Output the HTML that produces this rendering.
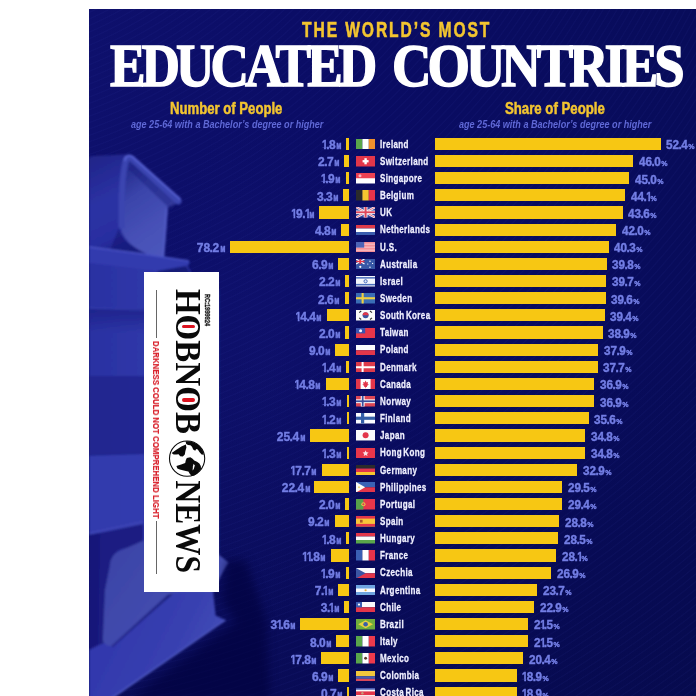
<!DOCTYPE html>
<html lang="en"><head><meta charset="utf-8"><title>The World's Most Educated Countries</title>
<style>
html,body{margin:0;padding:0;background:#fff;}
body{width:696px;height:696px;position:relative;overflow:hidden;font-family:"Liberation Sans",sans-serif;}
#bg{position:absolute;left:89px;top:9px;width:607px;height:687px;background:
 repeating-radial-gradient(circle at -190px -410px, rgba(70,80,200,0) 0 4.2px, rgba(70,80,200,.055) 4.8px 5.4px, rgba(70,80,200,0) 6px),
 radial-gradient(ellipse 120px 260px at 175px 360px, rgba(30,34,140,.14), rgba(11,11,88,0) 100%),
 linear-gradient(180deg,rgba(4,8,56,0) 45%,rgba(4,8,56,.35) 100%),
 linear-gradient(90deg,#0e106c 0%,#0a0c64 45%,#080c5a 100%);}
.t{position:absolute;white-space:nowrap;line-height:1;}
.sb{font-family:"Liberation Sans",sans-serif;font-weight:700;}
.sr{font-family:"Liberation Sans",sans-serif;font-weight:400;}
.sbi{font-family:"Liberation Sans",sans-serif;font-weight:700;font-style:italic;}
.si{font-family:"Liberation Sans",sans-serif;font-weight:400;font-style:italic;}
.fb{font-family:"Liberation Serif",serif;font-weight:700;}
.b{position:absolute;height:12.2px;background:#f7c713;}
.f{position:absolute;left:356.1px;line-height:0;}
.fl{display:block;}
.u{font-size:.6em;margin-left:.05em;}
.o{display:inline-block;width:.36em;margin-left:-.04em;transform:scaleX(.85);transform-origin:0 50%;clip-path:polygon(-.1em 0,.6em 0,.6em .7em,.39em .7em,.39em 1em,.21em 1em,.21em .7em,-.1em .7em);}
.d{margin:0 -.045em;}
.m{display:inline-block;font-size:.64em;width:.62em;transform:scaleX(.74);transform-origin:0 50%;margin-left:.12em;-webkit-text-stroke:.7px #737ee4;}
</style></head><body>
<div id="bg"></div>
<svg id="books" width="696" height="696" viewBox="0 0 696 696" style="position:absolute;left:0;top:0">
<defs>
<clipPath id="cp"><rect x="89" y="9" width="607" height="687"/></clipPath>
<linearGradient id="gS1" x1="0.2" y1="0" x2="0.5" y2="1"><stop offset="0" stop-color="#20258a"/><stop offset=".45" stop-color="#2c32a4"/><stop offset=".8" stop-color="#282ea0"/><stop offset="1" stop-color="#1b1f84"/></linearGradient>
<linearGradient id="gC1" x1="0.3" y1="0" x2="0.7" y2="1"><stop offset="0" stop-color="#232a8c"/><stop offset=".3" stop-color="#3a44aa"/><stop offset=".65" stop-color="#4650b6"/><stop offset="1" stop-color="#4c56bc"/></linearGradient>
<linearGradient id="gBody" x1="0" y1="0" x2="1" y2="0"><stop offset="0" stop-color="#2a31a2"/><stop offset=".4" stop-color="#2f37a8"/><stop offset="1" stop-color="#272d9a"/></linearGradient>
<linearGradient id="gBand" x1="0" y1="0" x2="0" y2="1"><stop offset="0" stop-color="#1c2188" stop-opacity=".85"/><stop offset="1" stop-color="#1c2188" stop-opacity="0"/></linearGradient>
<linearGradient id="gP1" x1="0" y1="0" x2="1" y2="0.6"><stop offset="0" stop-color="#3a42a6"/><stop offset=".6" stop-color="#434cae"/><stop offset="1" stop-color="#4852b6"/></linearGradient>
<linearGradient id="gSlab" x1="0" y1="0.3" x2="1" y2="0.7"><stop offset="0" stop-color="#3035ac"/><stop offset=".6" stop-color="#3840b0"/><stop offset="1" stop-color="#4650ba"/></linearGradient>
<filter id="bl" x="-5%" y="-5%" width="110%" height="110%"><feGaussianBlur stdDeviation="0.8"/></filter>
<filter id="bl3" x="-20%" y="-20%" width="140%" height="140%"><feGaussianBlur stdDeviation="5"/></filter>
</defs>
<g clip-path="url(#cp)">
<g filter="url(#bl)">
<!-- stack body -->
<path d="M89 246 L186 262 L200 290 L219 290 L219 560 L89 560 Z" fill="url(#gBody)"/>
<!-- top book spine face -->
<path d="M89 159 Q89 156 93 156 L124 154.5 Q128 154.5 127 159 L121 222 Q120 236 130 243 L150 255 L89 247 Z" fill="url(#gS1)"/>
<!-- concave pages -->
<path d="M127 158 L178 203 L168 207 Q166 235 164 258 L147 254 Q122 243 120.5 226 Z" fill="url(#gC1)"/>
<!-- shadow under rim -->
<path d="M131 166 L174 207" fill="none" stroke="#1b2080" stroke-width="8" opacity=".5" stroke-linecap="butt"/>
<!-- dark wedge under concave curve -->
<path d="M119 228 Q121 243 146 254 L150 255.5 L110 250 Z" fill="#171b7a" opacity=".7"/>
<!-- rim -->
<path d="M121.5 226 Q121 180 125.5 162 Q127 156 132 159 L178.5 201.5" fill="none" stroke="#3a44b0" stroke-width="6" stroke-linecap="round" stroke-linejoin="round"/>
<path d="M124.8 160 Q126.5 153.4 132.4 156.6 L180 199" fill="none" stroke="#555fd0" stroke-width="2.2" stroke-linecap="round"/>
<path d="M166.5 209 Q165 235 163 257" fill="none" stroke="#525cc6" stroke-width="2.4" opacity=".7"/>
<!-- second book top surface -->
<path d="M89 247 L150 255 L189 261 Q191 264 186 266 L158 271 L89 263 Z" fill="#323aae"/>
<path d="M89 247 L150 255 L189 261" fill="none" stroke="#4852c4" stroke-width="1.6"/>
<!-- shadow under T2 -->
<path d="M158 271 L186 266 L200 290 L144 290 Z" fill="#141870" opacity=".85"/>
<!-- bands on the left strip -->
<rect x="89" y="309" width="56" height="24" fill="url(#gBand)"/>
<path d="M89 308 L144 310" stroke="#3a42b2" stroke-width="1.4" opacity=".6"/>
<rect x="89" y="376" width="56" height="79" fill="#1a1e84" opacity=".6"/>
<path d="M89 455 L144 453 L144 519 L89 531 Z" fill="#363eb0" opacity=".75"/>
<path d="M89 455 L144 453" stroke="#1a1e82" stroke-width="1.4" opacity=".7"/>
<!-- lower book -->
<path d="M89 531.5 L143 520 L143 524 L89 535.5 Z" fill="#3a42b4"/>
<path d="M89 535 L143 524 L143 545 L122 549 Q112 552 111 566 L105 641 L89 652 Z" fill="#1a1e82"/>
<path d="M89 535 L100 533 L98 645 L89 652 Z" fill="#12157a"/>
<!-- slab -->
<path d="M170 596 L177 590 L213 590 L215.6 615.6 L225.4 620 L112 698 L89 698 L89 650 L105 642 L112 646.6 Z" fill="url(#gSlab)"/>
<path d="M225.4 620 L112 698" stroke="#5560cc" stroke-width="1.6" opacity=".8"/>
<!-- page block -->
<path d="M109.7 566.5 Q110 554 121 550.5 L143 540.7 L218 554 L228.5 562.6 L223 571.7 L213 592 L177 592 L169 595 L112 646.6 Q103 645 102.8 640 L105 590 Z" fill="url(#gP1)"/>
<path d="M169 595 L112 646.6" stroke="#1e2284" stroke-width="2.4" opacity=".6"/>
</g>
<path d="M226 560 L222 600 L236 622 L128 700 L270 700 L266 620 L246 560 Z" fill="#04063a" opacity=".6" filter="url(#bl3)"/>
</g>
</svg>

<div style="position:absolute;left:144px;top:271.5px;width:75px;height:320px;background:#fff"></div>
<div class="t sb" style="left:160.49px;top:340.59px;font-size:9.2px;color:#d9232e;transform-origin:0 0;transform:rotate(90deg) scaleX(0.8546);will-change:transform;-webkit-text-stroke:0.2px #d9232e;">DARKNESS COULD NOT COMPREHEND LIGHT</div>
<div class="t sb" style="left:209.64px;top:293.78px;font-size:6.9px;color:#111;transform-origin:0 0;transform:rotate(90deg) scaleX(0.8200);will-change:transform;-webkit-text-stroke:0.3px #111;">RC:1999924</div>
<div style="position:absolute;left:155.5px;top:290px;width:1.3px;height:48.3px;background:#666"></div>
<div style="position:absolute;left:155.5px;top:520.8px;width:1.3px;height:53.2px;background:#666"></div>
<svg width="696" height="696" viewBox="0 0 696 696" style="position:absolute;left:0;top:0" fill="#0a0a0a"><text transform="translate(176.05 288.9) rotate(90)" x="0" y="0" font-family="&quot;Liberation Serif&quot;, serif" font-weight="700" font-size="36.6" fill="#0a0a0a" textLength="145.1" lengthAdjust="spacingAndGlyphs">HOBNOB</text><text transform="translate(176.05 480.4) rotate(90)" x="0" y="0" font-family="&quot;Liberation Serif&quot;, serif" font-weight="700" font-size="36.6" fill="#0a0a0a" textLength="92.7" lengthAdjust="spacingAndGlyphs">NEWS</text></svg>
<div style="position:absolute;left:181.6px;top:324.6px;width:13.2px;height:3.8px;border-radius:1.9px;background:#dc1420"></div>
<div style="position:absolute;left:181.6px;top:398.1px;width:13.2px;height:3.8px;border-radius:1.9px;background:#dc1420"></div>
<svg width="696" height="696" viewBox="0 0 696 696" style="position:absolute;left:0;top:0">
<circle cx="187.1" cy="458.6" r="17.6" fill="#fff" stroke="#0a0a0a" stroke-width="1.1"/>
<path d="M171.6 453L176 450 181.4 446.6 185.9 444.6 186.4 447.5 185.4 451 184.8 454.6 182.8 456.4 180.2 456.2 178.6 454.2 176.2 454.4 173.6 454.4Z" fill="#0a0a0a"/>
<path d="M185.6 441.2L189.6 441.2 193.9 442.4 197.8 444.6 200.8 447.6 202.8 451 203.8 454.8 201.6 454.6 199.4 452 197.8 449.6 196.2 449 195.2 450.8 193.2 449.4 192 446.8 190.4 445.2 188 445 186.2 444Z" fill="#0a0a0a"/>
<path d="M176.4 466L181.2 464.6 185.2 463 185.8 460.2 186.8 458 190.3 457.2 192.6 458.8 194.2 460.6 197 461.8 199.4 463.4 200.8 466 201 468.8 199 471.6 197 473.8 194.2 475.4 191.4 475.8 189.6 473.6 188.4 471.6 185.8 471 182.8 470.2 179.8 469.6 177.4 468.6Z" fill="#0a0a0a"/>
<path d="M193.6 463.8L194.8 465.6 193.8 469 192.6 470.4 192.9 466.4Z" fill="#fff"/>
</svg>
<div class="b" style="left:345.76px;top:137.80px;width:3.14px"></div>
<div class="b" style="left:435.3px;top:137.80px;width:225.35px"></div>
<div class="f" style="top:138.85px"><svg class="fl" width="19.2" height="10.5" viewBox="0 0 19.2 10.5"><rect x="0" y="0" width="6.4" height="10.5" fill="#5aa64b"/><rect x="6.4" y="0" width="6.4" height="10.5" fill="#fff"/><rect x="12.8" y="0" width="6.4" height="10.5" fill="#f0902c"/></svg></div>
<div class="b" style="left:344.40px;top:154.95px;width:4.50px"></div>
<div class="b" style="left:435.3px;top:154.95px;width:197.89px"></div>
<div class="f" style="top:156.00px"><svg class="fl" width="19.2" height="10.5" viewBox="0 0 19.2 10.5"><rect x="0" y="0" width="19.2" height="10.5" fill="#e3364a"/><rect x="8.4" y="2.2" width="2.4" height="6.1" fill="#fff"/><rect x="6.6" y="4.1" width="6" height="2.3" fill="#fff"/></svg></div>
<div class="b" style="left:345.61px;top:172.10px;width:3.29px"></div>
<div class="b" style="left:435.3px;top:172.10px;width:193.60px"></div>
<div class="f" style="top:173.15px"><svg class="fl" width="19.2" height="10.5" viewBox="0 0 19.2 10.5"><rect x="0" y="0" width="19.2" height="10.5" fill="#fff"/><rect x="0" y="0" width="19.2" height="5.25" fill="#ee4152"/><circle cx="4" cy="2.7" r="1.5" fill="#f9b3bb"/></svg></div>
<div class="b" style="left:343.48px;top:189.25px;width:5.42px"></div>
<div class="b" style="left:435.3px;top:189.25px;width:189.73px"></div>
<div class="f" style="top:190.30px"><svg class="fl" width="19.2" height="10.5" viewBox="0 0 19.2 10.5"><rect x="0" y="0" width="6.4" height="10.5" fill="#2b2b2b"/><rect x="6.4" y="0" width="6.4" height="10.5" fill="#f7c72f"/><rect x="12.8" y="0" width="6.4" height="10.5" fill="#e8334a"/></svg></div>
<div class="b" style="left:319.47px;top:206.40px;width:29.43px"></div>
<div class="b" style="left:435.3px;top:206.40px;width:187.59px"></div>
<div class="f" style="top:207.45px"><svg class="fl" width="19.2" height="10.5" viewBox="0 0 19.2 10.5"><rect x="0" y="0" width="19.2" height="10.5" fill="#3c4a9c"/><path d="M0 0L19.2 10.5M19.2 0L0 10.5" stroke="#f4f4fa" stroke-width="2.4"/><path d="M0 0L19.2 10.5M19.2 0L0 10.5" stroke="#e3566a" stroke-width="0.8"/><rect x="7.7" y="0" width="3.8" height="10.5" fill="#f4f4fa"/><rect x="0" y="3.55" width="19.2" height="3.4" fill="#f4f4fa"/><rect x="8.6" y="0" width="2.0" height="10.5" fill="#e0465a"/><rect x="0" y="4.35" width="19.2" height="1.8" fill="#e0465a"/></svg></div>
<div class="b" style="left:341.20px;top:223.55px;width:7.70px"></div>
<div class="b" style="left:435.3px;top:223.55px;width:180.72px"></div>
<div class="f" style="top:224.60px"><svg class="fl" width="19.2" height="10.5" viewBox="0 0 19.2 10.5"><rect x="0" y="0" width="19.2" height="3.5" fill="#de3a49"/><rect x="0" y="3.5" width="19.2" height="3.5" fill="#fff"/><rect x="0" y="7" width="19.2" height="3.5" fill="#3a5dae"/></svg></div>
<div class="b" style="left:229.64px;top:240.70px;width:119.26px"></div>
<div class="b" style="left:435.3px;top:240.70px;width:173.43px"></div>
<div class="f" style="top:241.75px"><svg class="fl" width="19.2" height="10.5" viewBox="0 0 19.2 10.5"><rect x="0" y="0" width="19.2" height="10.5" fill="#f27a84"/><rect x="0" y="0.75" width="19.2" height="0.75" fill="#f9c9cd"/><rect x="0" y="2.25" width="19.2" height="0.75" fill="#f9c9cd"/><rect x="0" y="3.75" width="19.2" height="0.75" fill="#f9c9cd"/><rect x="0" y="5.25" width="19.2" height="0.75" fill="#f9c9cd"/><rect x="0" y="6.75" width="19.2" height="0.75" fill="#f9c9cd"/><rect x="0" y="8.25" width="19.2" height="0.75" fill="#f9c9cd"/><rect x="0" y="9.75" width="19.2" height="0.75" fill="#f9c9cd"/><rect x="0" y="0" width="8.2" height="5.6" fill="#4c63b6"/></svg></div>
<div class="b" style="left:338.01px;top:257.85px;width:10.89px"></div>
<div class="b" style="left:435.3px;top:257.85px;width:171.28px"></div>
<div class="f" style="top:258.90px"><svg class="fl" width="19.2" height="10.5" viewBox="0 0 19.2 10.5"><rect x="0" y="0" width="19.2" height="10.5" fill="#3757a6"/><rect x="0" y="0" width="8.5" height="5" fill="#3c4a9c"/><path d="M0 0L8.5 5M8.5 0L0 5" stroke="#fff" stroke-width="1.3"/><rect x="3.4" y="0" width="1.7" height="5" fill="#e3364a"/><rect x="0" y="1.8" width="8.5" height="1.4" fill="#e3364a"/><circle cx="4.3" cy="7.8" r="1.1" fill="#fff"/><circle cx="14" cy="2.2" r=".7" fill="#fff"/><circle cx="16.6" cy="4.4" r=".6" fill="#fff"/><circle cx="14" cy="8.3" r=".7" fill="#fff"/><circle cx="11.8" cy="5" r=".6" fill="#fff"/></svg></div>
<div class="b" style="left:345.16px;top:275.00px;width:3.74px"></div>
<div class="b" style="left:435.3px;top:275.00px;width:170.85px"></div>
<div class="f" style="top:276.05px"><svg class="fl" width="19.2" height="10.5" viewBox="0 0 19.2 10.5"><rect x="0" y="0" width="19.2" height="10.5" fill="#f4f6fb"/><rect x="0" y="1.1" width="19.2" height="1.5" fill="#4b6fbd"/><rect x="0" y="7.9" width="19.2" height="1.5" fill="#4b6fbd"/><circle cx="9.6" cy="5.25" r="1.6" fill="#dfe6f5" stroke="#4b6fbd" stroke-width="1"/></svg></div>
<div class="b" style="left:344.55px;top:292.15px;width:4.35px"></div>
<div class="b" style="left:435.3px;top:292.15px;width:170.42px"></div>
<div class="f" style="top:293.20px"><svg class="fl" width="19.2" height="10.5" viewBox="0 0 19.2 10.5"><rect x="0" y="0" width="19.2" height="10.5" fill="#3a6db5"/><rect x="5.6" y="0" width="2.1" height="10.5" fill="#f0d040"/><rect x="0" y="4.2" width="19.2" height="2.1" fill="#f0d040"/></svg></div>
<div class="b" style="left:326.61px;top:309.30px;width:22.29px"></div>
<div class="b" style="left:435.3px;top:309.30px;width:169.57px"></div>
<div class="f" style="top:310.35px"><svg class="fl" width="19.2" height="10.5" viewBox="0 0 19.2 10.5"><rect x="0" y="0" width="19.2" height="10.5" fill="#fafafa"/><circle cx="9.6" cy="5.25" r="3" fill="#3b55a0"/><path d="M6.6 5.25a3 3 0 0 1 6 0z" fill="#e3364a"/><path d="M3.2 2.6l2-1.6M14 1l2 1.6M3.2 7.9l2 1.6M14 9.5l2-1.6" stroke="#333" stroke-width="1.1"/></svg></div>
<div class="b" style="left:345.46px;top:326.45px;width:3.44px"></div>
<div class="b" style="left:435.3px;top:326.45px;width:167.42px"></div>
<div class="f" style="top:327.50px"><svg class="fl" width="19.2" height="10.5" viewBox="0 0 19.2 10.5"><rect x="0" y="0" width="19.2" height="10.5" fill="#e8364a"/><rect x="0" y="0" width="9.2" height="5.4" fill="#3b55b0"/><circle cx="4.6" cy="2.7" r="1.5" fill="#fff"/></svg></div>
<div class="b" style="left:334.82px;top:343.60px;width:14.08px"></div>
<div class="b" style="left:435.3px;top:343.60px;width:163.13px"></div>
<div class="f" style="top:344.65px"><svg class="fl" width="19.2" height="10.5" viewBox="0 0 19.2 10.5"><rect x="0" y="0" width="19.2" height="5.25" fill="#fbfbfd"/><rect x="0" y="5.25" width="19.2" height="5.25" fill="#e3364a"/></svg></div>
<div class="b" style="left:346.37px;top:360.75px;width:2.53px"></div>
<div class="b" style="left:435.3px;top:360.75px;width:162.27px"></div>
<div class="f" style="top:361.80px"><svg class="fl" width="19.2" height="10.5" viewBox="0 0 19.2 10.5"><rect x="0" y="0" width="19.2" height="10.5" fill="#dd3a4a"/><rect x="5.6" y="0" width="2" height="10.5" fill="#fff"/><rect x="0" y="4.25" width="19.2" height="2" fill="#fff"/></svg></div>
<div class="b" style="left:326.00px;top:377.90px;width:22.90px"></div>
<div class="b" style="left:435.3px;top:377.90px;width:158.84px"></div>
<div class="f" style="top:378.95px"><svg class="fl" width="19.2" height="10.5" viewBox="0 0 19.2 10.5"><rect x="0" y="0" width="19.2" height="10.5" fill="#fdfdfd"/><rect x="0" y="0" width="4.6" height="10.5" fill="#e3364a"/><rect x="14.6" y="0" width="4.6" height="10.5" fill="#e3364a"/><path d="M9.6 1.6l1 1.9 1.5-.5-.5 2.2 1.3.3-2 1.6.2 1h-1.2v1.2h-.6V8.1H8.1l.2-1-2-1.6 1.3-.3-.5-2.2 1.5.5z" fill="#e3364a"/></svg></div>
<div class="b" style="left:346.52px;top:395.05px;width:2.38px"></div>
<div class="b" style="left:435.3px;top:395.05px;width:158.84px"></div>
<div class="f" style="top:396.10px"><svg class="fl" width="19.2" height="10.5" viewBox="0 0 19.2 10.5"><rect x="0" y="0" width="19.2" height="10.5" fill="#dc4655"/><rect x="4.8" y="0" width="3.8" height="10.5" fill="#fff"/><rect x="0" y="3.35" width="19.2" height="3.8" fill="#fff"/><rect x="5.8" y="0" width="1.8" height="10.5" fill="#3a4f9c"/><rect x="0" y="4.35" width="19.2" height="1.8" fill="#3a4f9c"/></svg></div>
<div class="b" style="left:346.68px;top:412.20px;width:2.22px"></div>
<div class="b" style="left:435.3px;top:412.20px;width:153.26px"></div>
<div class="f" style="top:413.25px"><svg class="fl" width="19.2" height="10.5" viewBox="0 0 19.2 10.5"><rect x="0" y="0" width="19.2" height="10.5" fill="#fbfcff"/><rect x="5" y="0" width="3.2" height="10.5" fill="#335ea8"/><rect x="0" y="3.65" width="19.2" height="3.2" fill="#335ea8"/></svg></div>
<div class="b" style="left:309.89px;top:429.35px;width:39.01px"></div>
<div class="b" style="left:435.3px;top:429.35px;width:149.83px"></div>
<div class="f" style="top:430.40px"><svg class="fl" width="19.2" height="10.5" viewBox="0 0 19.2 10.5"><rect x="0" y="0" width="19.2" height="10.5" fill="#fbfbfb"/><circle cx="9.6" cy="5.25" r="3" fill="#e3364a"/></svg></div>
<div class="b" style="left:346.52px;top:446.50px;width:2.38px"></div>
<div class="b" style="left:435.3px;top:446.50px;width:149.83px"></div>
<div class="f" style="top:447.55px"><svg class="fl" width="19.2" height="10.5" viewBox="0 0 19.2 10.5"><rect x="0" y="0" width="19.2" height="10.5" fill="#e8364a"/><path d="M9.6 2.2l.9 2 2.1.2-1.6 1.5.5 2.2-1.9-1.1-1.9 1.1.5-2.2-1.6-1.5 2.1-.2z" fill="#fde4e7"/></svg></div>
<div class="b" style="left:321.60px;top:463.65px;width:27.30px"></div>
<div class="b" style="left:435.3px;top:463.65px;width:141.67px"></div>
<div class="f" style="top:464.70px"><svg class="fl" width="19.2" height="10.5" viewBox="0 0 19.2 10.5"><rect x="0" y="0" width="19.2" height="3.5" fill="#2b2b2b"/><rect x="0" y="3.5" width="19.2" height="3.5" fill="#e3364a"/><rect x="0" y="7" width="19.2" height="3.5" fill="#f7c72f"/></svg></div>
<div class="b" style="left:314.45px;top:480.80px;width:34.45px"></div>
<div class="b" style="left:435.3px;top:480.80px;width:127.08px"></div>
<div class="f" style="top:481.85px"><svg class="fl" width="19.2" height="10.5" viewBox="0 0 19.2 10.5"><rect x="0" y="0" width="19.2" height="5.25" fill="#3a62b5"/><rect x="0" y="5.25" width="19.2" height="5.25" fill="#e3364a"/><path d="M0 0L9.2 5.25 0 10.5z" fill="#fbfbf4"/><circle cx="3" cy="5.25" r="1.1" fill="#f2d77a"/></svg></div>
<div class="b" style="left:345.46px;top:497.95px;width:3.44px"></div>
<div class="b" style="left:435.3px;top:497.95px;width:126.66px"></div>
<div class="f" style="top:499.00px"><svg class="fl" width="19.2" height="10.5" viewBox="0 0 19.2 10.5"><rect x="0" y="0" width="19.2" height="10.5" fill="#e8364a"/><rect x="0" y="0" width="7.4" height="10.5" fill="#58a04a"/><circle cx="7.4" cy="5.25" r="2.1" fill="#e8c24a"/><circle cx="7.4" cy="5.25" r="1.1" fill="#d64050"/></svg></div>
<div class="b" style="left:334.52px;top:515.10px;width:14.38px"></div>
<div class="b" style="left:435.3px;top:515.10px;width:124.08px"></div>
<div class="f" style="top:516.15px"><svg class="fl" width="19.2" height="10.5" viewBox="0 0 19.2 10.5"><rect x="0" y="0" width="19.2" height="10.5" fill="#f6c53a"/><rect x="0" y="0" width="19.2" height="2.6" fill="#e3364a"/><rect x="0" y="7.9" width="19.2" height="2.6" fill="#e3364a"/><rect x="4" y="3.8" width="2.6" height="2.8" fill="#a8562a"/></svg></div>
<div class="b" style="left:345.76px;top:532.25px;width:3.14px"></div>
<div class="b" style="left:435.3px;top:532.25px;width:122.79px"></div>
<div class="f" style="top:533.30px"><svg class="fl" width="19.2" height="10.5" viewBox="0 0 19.2 10.5"><rect x="0" y="0" width="19.2" height="3.5" fill="#e3364a"/><rect x="0" y="3.5" width="19.2" height="3.5" fill="#fbfbfb"/><rect x="0" y="7" width="19.2" height="3.5" fill="#5aa64b"/></svg></div>
<div class="b" style="left:330.56px;top:549.40px;width:18.34px"></div>
<div class="b" style="left:435.3px;top:549.40px;width:121.08px"></div>
<div class="f" style="top:550.45px"><svg class="fl" width="19.2" height="10.5" viewBox="0 0 19.2 10.5"><rect x="0" y="0" width="6.4" height="10.5" fill="#3a5fb4"/><rect x="6.4" y="0" width="6.4" height="10.5" fill="#fff"/><rect x="12.8" y="0" width="6.4" height="10.5" fill="#e8334a"/></svg></div>
<div class="b" style="left:345.61px;top:566.55px;width:3.29px"></div>
<div class="b" style="left:435.3px;top:566.55px;width:115.93px"></div>
<div class="f" style="top:567.60px"><svg class="fl" width="19.2" height="10.5" viewBox="0 0 19.2 10.5"><rect x="0" y="0" width="19.2" height="5.25" fill="#fbfbfd"/><rect x="0" y="5.25" width="19.2" height="5.25" fill="#e3364a"/><path d="M0 0L9.6 5.25 0 10.5z" fill="#3a55a4"/></svg></div>
<div class="b" style="left:337.71px;top:583.70px;width:11.19px"></div>
<div class="b" style="left:435.3px;top:583.70px;width:102.20px"></div>
<div class="f" style="top:584.75px"><svg class="fl" width="19.2" height="10.5" viewBox="0 0 19.2 10.5"><rect x="0" y="0" width="19.2" height="10.5" fill="#6fa4e0"/><rect x="0" y="3.5" width="19.2" height="3.5" fill="#fbfbff"/><circle cx="9.6" cy="5.25" r="1.1" fill="#e8b040"/></svg></div>
<div class="b" style="left:343.79px;top:600.85px;width:5.11px"></div>
<div class="b" style="left:435.3px;top:600.85px;width:98.76px"></div>
<div class="f" style="top:601.90px"><svg class="fl" width="19.2" height="10.5" viewBox="0 0 19.2 10.5"><rect x="0" y="0" width="19.2" height="5.25" fill="#fbfbfd"/><rect x="0" y="5.25" width="19.2" height="5.25" fill="#e3364a"/><rect x="0" y="0" width="6" height="5.25" fill="#3a5fb4"/><circle cx="3" cy="2.6" r="1.1" fill="#fff"/></svg></div>
<div class="b" style="left:300.47px;top:618.00px;width:48.43px"></div>
<div class="b" style="left:435.3px;top:618.00px;width:92.76px"></div>
<div class="f" style="top:619.05px"><svg class="fl" width="19.2" height="10.5" viewBox="0 0 19.2 10.5"><rect x="0" y="0" width="19.2" height="10.5" fill="#6fae3c"/><path d="M9.6 1.2L17 5.25 9.6 9.3 2.2 5.25z" fill="#e8d23e"/><circle cx="9.6" cy="5.25" r="2.3" fill="#3a5fa8"/></svg></div>
<div class="b" style="left:336.34px;top:635.15px;width:12.56px"></div>
<div class="b" style="left:435.3px;top:635.15px;width:92.76px"></div>
<div class="f" style="top:636.20px"><svg class="fl" width="19.2" height="10.5" viewBox="0 0 19.2 10.5"><rect x="0" y="0" width="6.4" height="10.5" fill="#5aa64b"/><rect x="6.4" y="0" width="6.4" height="10.5" fill="#fff"/><rect x="12.8" y="0" width="6.4" height="10.5" fill="#ee3a4c"/></svg></div>
<div class="b" style="left:321.44px;top:652.30px;width:27.46px"></div>
<div class="b" style="left:435.3px;top:652.30px;width:88.04px"></div>
<div class="f" style="top:653.35px"><svg class="fl" width="19.2" height="10.5" viewBox="0 0 19.2 10.5"><rect x="0" y="0" width="6.4" height="10.5" fill="#5aa64b"/><rect x="6.4" y="0" width="6.4" height="10.5" fill="#fff"/><rect x="12.8" y="0" width="6.4" height="10.5" fill="#ee3a4c"/><circle cx="9.6" cy="5.25" r="1.5" fill="#5a3a2a"/></svg></div>
<div class="b" style="left:338.01px;top:669.45px;width:10.89px"></div>
<div class="b" style="left:435.3px;top:669.45px;width:81.60px"></div>
<div class="f" style="top:670.50px"><svg class="fl" width="19.2" height="10.5" viewBox="0 0 19.2 10.5"><rect x="0" y="0" width="19.2" height="5.25" fill="#f2c63c"/><rect x="0" y="5.25" width="19.2" height="2.6" fill="#4a5db0"/><rect x="0" y="7.85" width="19.2" height="2.65" fill="#d8485a"/></svg></div>
<div class="b" style="left:347.44px;top:686.60px;width:1.46px"></div>
<div class="b" style="left:435.3px;top:686.60px;width:81.60px"></div>
<div class="f" style="top:687.65px"><svg class="fl" width="19.2" height="10.5" viewBox="0 0 19.2 10.5"><rect x="0" y="0" width="19.2" height="10.5" fill="#4a5db0"/><rect x="0" y="1.7" width="19.2" height="7.1" fill="#fbfbfb"/><rect x="0" y="3.4" width="19.2" height="3.7" fill="#e3364a"/><circle cx="6.4" cy="5.25" r="1.2" fill="#c89a7a"/></svg></div>
<div class="t sb" style="left:380.10px;transform-origin:0 0;top:138.68px;font-size:11.3px;color:#f0f0ff;letter-spacing:0.5px;transform:scaleX(0.7100);-webkit-text-stroke:.3px #f0f0ff;word-spacing:-1.6px;">Ireland</div>
<div class="t sb" style="right:355.14px;transform-origin:100% 0;top:138.18px;font-size:13.2px;color:#737ee4;transform:scaleX(0.9100);-webkit-text-stroke:.45px #737ee4;"><span class="o">1</span><span class="d">.</span>8<span class="m">M</span></div>
<div class="t sb" style="left:666.25px;transform-origin:0 0;top:138.28px;font-size:13.2px;color:#737ee4;transform:scaleX(0.8900);-webkit-text-stroke:.45px #737ee4;">52<span class="d">.</span>4<span class="u">%</span></div>
<div class="t sb" style="left:380.10px;transform-origin:0 0;top:155.83px;font-size:11.3px;color:#f0f0ff;letter-spacing:0.5px;transform:scaleX(0.7100);-webkit-text-stroke:.3px #f0f0ff;word-spacing:-1.6px;">Switzerland</div>
<div class="t sb" style="right:356.50px;transform-origin:100% 0;top:155.33px;font-size:13.2px;color:#737ee4;transform:scaleX(0.9100);-webkit-text-stroke:.45px #737ee4;">2<span class="d">.</span>7<span class="m">M</span></div>
<div class="t sb" style="left:638.79px;transform-origin:0 0;top:155.43px;font-size:13.2px;color:#737ee4;transform:scaleX(0.8900);-webkit-text-stroke:.45px #737ee4;">46<span class="d">.</span>0<span class="u">%</span></div>
<div class="t sb" style="left:380.10px;transform-origin:0 0;top:172.98px;font-size:11.3px;color:#f0f0ff;letter-spacing:0.5px;transform:scaleX(0.7100);-webkit-text-stroke:.3px #f0f0ff;word-spacing:-1.6px;">Singapore</div>
<div class="t sb" style="right:355.29px;transform-origin:100% 0;top:172.48px;font-size:13.2px;color:#737ee4;transform:scaleX(0.9100);-webkit-text-stroke:.45px #737ee4;"><span class="o">1</span><span class="d">.</span>9<span class="m">M</span></div>
<div class="t sb" style="left:634.50px;transform-origin:0 0;top:172.58px;font-size:13.2px;color:#737ee4;transform:scaleX(0.8900);-webkit-text-stroke:.45px #737ee4;">45<span class="d">.</span>0<span class="u">%</span></div>
<div class="t sb" style="left:380.10px;transform-origin:0 0;top:190.13px;font-size:11.3px;color:#f0f0ff;letter-spacing:0.5px;transform:scaleX(0.7100);-webkit-text-stroke:.3px #f0f0ff;word-spacing:-1.6px;">Belgium</div>
<div class="t sb" style="right:357.42px;transform-origin:100% 0;top:189.63px;font-size:13.2px;color:#737ee4;transform:scaleX(0.9100);-webkit-text-stroke:.45px #737ee4;">3<span class="d">.</span>3<span class="m">M</span></div>
<div class="t sb" style="left:630.63px;transform-origin:0 0;top:189.73px;font-size:13.2px;color:#737ee4;transform:scaleX(0.8900);-webkit-text-stroke:.45px #737ee4;">44<span class="d">.</span><span class="o">1</span><span class="u">%</span></div>
<div class="t sb" style="left:380.10px;transform-origin:0 0;top:207.28px;font-size:11.3px;color:#f0f0ff;letter-spacing:0.5px;transform:scaleX(0.7100);-webkit-text-stroke:.3px #f0f0ff;word-spacing:-1.6px;">UK</div>
<div class="t sb" style="right:381.43px;transform-origin:100% 0;top:206.78px;font-size:13.2px;color:#737ee4;transform:scaleX(0.9100);-webkit-text-stroke:.45px #737ee4;"><span class="o">1</span>9<span class="d">.</span><span class="o">1</span><span class="m">M</span></div>
<div class="t sb" style="left:628.49px;transform-origin:0 0;top:206.88px;font-size:13.2px;color:#737ee4;transform:scaleX(0.8900);-webkit-text-stroke:.45px #737ee4;">43<span class="d">.</span>6<span class="u">%</span></div>
<div class="t sb" style="left:380.10px;transform-origin:0 0;top:224.43px;font-size:11.3px;color:#f0f0ff;letter-spacing:0.5px;transform:scaleX(0.7100);-webkit-text-stroke:.3px #f0f0ff;word-spacing:-1.6px;">Netherlands</div>
<div class="t sb" style="right:359.70px;transform-origin:100% 0;top:223.93px;font-size:13.2px;color:#737ee4;transform:scaleX(0.9100);-webkit-text-stroke:.45px #737ee4;">4<span class="d">.</span>8<span class="m">M</span></div>
<div class="t sb" style="left:621.62px;transform-origin:0 0;top:224.03px;font-size:13.2px;color:#737ee4;transform:scaleX(0.8900);-webkit-text-stroke:.45px #737ee4;">42<span class="d">.</span>0<span class="u">%</span></div>
<div class="t sb" style="left:380.10px;transform-origin:0 0;top:241.58px;font-size:11.3px;color:#f0f0ff;letter-spacing:0.5px;transform:scaleX(0.7100);-webkit-text-stroke:.3px #f0f0ff;word-spacing:-1.6px;">U.S.</div>
<div class="t sb" style="right:471.26px;transform-origin:100% 0;top:241.08px;font-size:13.2px;color:#737ee4;transform:scaleX(0.9100);-webkit-text-stroke:.45px #737ee4;">78<span class="d">.</span>2<span class="m">M</span></div>
<div class="t sb" style="left:614.33px;transform-origin:0 0;top:241.18px;font-size:13.2px;color:#737ee4;transform:scaleX(0.8900);-webkit-text-stroke:.45px #737ee4;">40<span class="d">.</span>3<span class="u">%</span></div>
<div class="t sb" style="left:380.10px;transform-origin:0 0;top:258.73px;font-size:11.3px;color:#f0f0ff;letter-spacing:0.5px;transform:scaleX(0.7100);-webkit-text-stroke:.3px #f0f0ff;word-spacing:-1.6px;">Australia</div>
<div class="t sb" style="right:362.89px;transform-origin:100% 0;top:258.23px;font-size:13.2px;color:#737ee4;transform:scaleX(0.9100);-webkit-text-stroke:.45px #737ee4;">6<span class="d">.</span>9<span class="m">M</span></div>
<div class="t sb" style="left:612.18px;transform-origin:0 0;top:258.33px;font-size:13.2px;color:#737ee4;transform:scaleX(0.8900);-webkit-text-stroke:.45px #737ee4;">39<span class="d">.</span>8<span class="u">%</span></div>
<div class="t sb" style="left:380.10px;transform-origin:0 0;top:275.88px;font-size:11.3px;color:#f0f0ff;letter-spacing:0.5px;transform:scaleX(0.7100);-webkit-text-stroke:.3px #f0f0ff;word-spacing:-1.6px;">Israel</div>
<div class="t sb" style="right:355.74px;transform-origin:100% 0;top:275.38px;font-size:13.2px;color:#737ee4;transform:scaleX(0.9100);-webkit-text-stroke:.45px #737ee4;">2<span class="d">.</span>2<span class="m">M</span></div>
<div class="t sb" style="left:611.75px;transform-origin:0 0;top:275.48px;font-size:13.2px;color:#737ee4;transform:scaleX(0.8900);-webkit-text-stroke:.45px #737ee4;">39<span class="d">.</span>7<span class="u">%</span></div>
<div class="t sb" style="left:380.10px;transform-origin:0 0;top:293.03px;font-size:11.3px;color:#f0f0ff;letter-spacing:0.5px;transform:scaleX(0.7100);-webkit-text-stroke:.3px #f0f0ff;word-spacing:-1.6px;">Sweden</div>
<div class="t sb" style="right:356.35px;transform-origin:100% 0;top:292.53px;font-size:13.2px;color:#737ee4;transform:scaleX(0.9100);-webkit-text-stroke:.45px #737ee4;">2<span class="d">.</span>6<span class="m">M</span></div>
<div class="t sb" style="left:611.32px;transform-origin:0 0;top:292.63px;font-size:13.2px;color:#737ee4;transform:scaleX(0.8900);-webkit-text-stroke:.45px #737ee4;">39<span class="d">.</span>6<span class="u">%</span></div>
<div class="t sb" style="left:380.10px;transform-origin:0 0;top:310.18px;font-size:11.3px;color:#f0f0ff;letter-spacing:0.5px;transform:scaleX(0.7100);-webkit-text-stroke:.3px #f0f0ff;word-spacing:-1.6px;">South Korea</div>
<div class="t sb" style="right:374.29px;transform-origin:100% 0;top:309.68px;font-size:13.2px;color:#737ee4;transform:scaleX(0.9100);-webkit-text-stroke:.45px #737ee4;"><span class="o">1</span>4<span class="d">.</span>4<span class="m">M</span></div>
<div class="t sb" style="left:610.47px;transform-origin:0 0;top:309.78px;font-size:13.2px;color:#737ee4;transform:scaleX(0.8900);-webkit-text-stroke:.45px #737ee4;">39<span class="d">.</span>4<span class="u">%</span></div>
<div class="t sb" style="left:380.10px;transform-origin:0 0;top:327.33px;font-size:11.3px;color:#f0f0ff;letter-spacing:0.5px;transform:scaleX(0.7100);-webkit-text-stroke:.3px #f0f0ff;word-spacing:-1.6px;">Taiwan</div>
<div class="t sb" style="right:355.44px;transform-origin:100% 0;top:326.83px;font-size:13.2px;color:#737ee4;transform:scaleX(0.9100);-webkit-text-stroke:.45px #737ee4;">2<span class="d">.</span>0<span class="m">M</span></div>
<div class="t sb" style="left:608.32px;transform-origin:0 0;top:326.93px;font-size:13.2px;color:#737ee4;transform:scaleX(0.8900);-webkit-text-stroke:.45px #737ee4;">38<span class="d">.</span>9<span class="u">%</span></div>
<div class="t sb" style="left:380.10px;transform-origin:0 0;top:344.48px;font-size:11.3px;color:#f0f0ff;letter-spacing:0.5px;transform:scaleX(0.7100);-webkit-text-stroke:.3px #f0f0ff;word-spacing:-1.6px;">Poland</div>
<div class="t sb" style="right:366.08px;transform-origin:100% 0;top:343.98px;font-size:13.2px;color:#737ee4;transform:scaleX(0.9100);-webkit-text-stroke:.45px #737ee4;">9<span class="d">.</span>0<span class="m">M</span></div>
<div class="t sb" style="left:604.03px;transform-origin:0 0;top:344.08px;font-size:13.2px;color:#737ee4;transform:scaleX(0.8900);-webkit-text-stroke:.45px #737ee4;">37<span class="d">.</span>9<span class="u">%</span></div>
<div class="t sb" style="left:380.10px;transform-origin:0 0;top:361.63px;font-size:11.3px;color:#f0f0ff;letter-spacing:0.5px;transform:scaleX(0.7100);-webkit-text-stroke:.3px #f0f0ff;word-spacing:-1.6px;">Denmark</div>
<div class="t sb" style="right:354.53px;transform-origin:100% 0;top:361.13px;font-size:13.2px;color:#737ee4;transform:scaleX(0.9100);-webkit-text-stroke:.45px #737ee4;"><span class="o">1</span><span class="d">.</span>4<span class="m">M</span></div>
<div class="t sb" style="left:603.17px;transform-origin:0 0;top:361.23px;font-size:13.2px;color:#737ee4;transform:scaleX(0.8900);-webkit-text-stroke:.45px #737ee4;">37<span class="d">.</span>7<span class="u">%</span></div>
<div class="t sb" style="left:380.10px;transform-origin:0 0;top:378.78px;font-size:11.3px;color:#f0f0ff;letter-spacing:0.5px;transform:scaleX(0.7100);-webkit-text-stroke:.3px #f0f0ff;word-spacing:-1.6px;">Canada</div>
<div class="t sb" style="right:374.90px;transform-origin:100% 0;top:378.28px;font-size:13.2px;color:#737ee4;transform:scaleX(0.9100);-webkit-text-stroke:.45px #737ee4;"><span class="o">1</span>4<span class="d">.</span>8<span class="m">M</span></div>
<div class="t sb" style="left:599.74px;transform-origin:0 0;top:378.38px;font-size:13.2px;color:#737ee4;transform:scaleX(0.8900);-webkit-text-stroke:.45px #737ee4;">36<span class="d">.</span>9<span class="u">%</span></div>
<div class="t sb" style="left:380.10px;transform-origin:0 0;top:395.93px;font-size:11.3px;color:#f0f0ff;letter-spacing:0.5px;transform:scaleX(0.7100);-webkit-text-stroke:.3px #f0f0ff;word-spacing:-1.6px;">Norway</div>
<div class="t sb" style="right:354.38px;transform-origin:100% 0;top:395.43px;font-size:13.2px;color:#737ee4;transform:scaleX(0.9100);-webkit-text-stroke:.45px #737ee4;"><span class="o">1</span><span class="d">.</span>3<span class="m">M</span></div>
<div class="t sb" style="left:599.74px;transform-origin:0 0;top:395.53px;font-size:13.2px;color:#737ee4;transform:scaleX(0.8900);-webkit-text-stroke:.45px #737ee4;">36<span class="d">.</span>9<span class="u">%</span></div>
<div class="t sb" style="left:380.10px;transform-origin:0 0;top:413.08px;font-size:11.3px;color:#f0f0ff;letter-spacing:0.5px;transform:scaleX(0.7100);-webkit-text-stroke:.3px #f0f0ff;word-spacing:-1.6px;">Finland</div>
<div class="t sb" style="right:354.22px;transform-origin:100% 0;top:412.58px;font-size:13.2px;color:#737ee4;transform:scaleX(0.9100);-webkit-text-stroke:.45px #737ee4;"><span class="o">1</span><span class="d">.</span>2<span class="m">M</span></div>
<div class="t sb" style="left:594.16px;transform-origin:0 0;top:412.68px;font-size:13.2px;color:#737ee4;transform:scaleX(0.8900);-webkit-text-stroke:.45px #737ee4;">35<span class="d">.</span>6<span class="u">%</span></div>
<div class="t sb" style="left:380.10px;transform-origin:0 0;top:430.23px;font-size:11.3px;color:#f0f0ff;letter-spacing:0.5px;transform:scaleX(0.7100);-webkit-text-stroke:.3px #f0f0ff;word-spacing:-1.6px;">Japan</div>
<div class="t sb" style="right:391.01px;transform-origin:100% 0;top:429.73px;font-size:13.2px;color:#737ee4;transform:scaleX(0.9100);-webkit-text-stroke:.45px #737ee4;">25<span class="d">.</span>4<span class="m">M</span></div>
<div class="t sb" style="left:590.73px;transform-origin:0 0;top:429.83px;font-size:13.2px;color:#737ee4;transform:scaleX(0.8900);-webkit-text-stroke:.45px #737ee4;">34<span class="d">.</span>8<span class="u">%</span></div>
<div class="t sb" style="left:380.10px;transform-origin:0 0;top:447.38px;font-size:11.3px;color:#f0f0ff;letter-spacing:0.5px;transform:scaleX(0.7100);-webkit-text-stroke:.3px #f0f0ff;word-spacing:-1.6px;">Hong Kong</div>
<div class="t sb" style="right:354.38px;transform-origin:100% 0;top:446.88px;font-size:13.2px;color:#737ee4;transform:scaleX(0.9100);-webkit-text-stroke:.45px #737ee4;"><span class="o">1</span><span class="d">.</span>3<span class="m">M</span></div>
<div class="t sb" style="left:590.73px;transform-origin:0 0;top:446.98px;font-size:13.2px;color:#737ee4;transform:scaleX(0.8900);-webkit-text-stroke:.45px #737ee4;">34<span class="d">.</span>8<span class="u">%</span></div>
<div class="t sb" style="left:380.10px;transform-origin:0 0;top:464.53px;font-size:11.3px;color:#f0f0ff;letter-spacing:0.5px;transform:scaleX(0.7100);-webkit-text-stroke:.3px #f0f0ff;word-spacing:-1.6px;">Germany</div>
<div class="t sb" style="right:379.30px;transform-origin:100% 0;top:464.03px;font-size:13.2px;color:#737ee4;transform:scaleX(0.9100);-webkit-text-stroke:.45px #737ee4;"><span class="o">1</span>7<span class="d">.</span>7<span class="m">M</span></div>
<div class="t sb" style="left:582.57px;transform-origin:0 0;top:464.13px;font-size:13.2px;color:#737ee4;transform:scaleX(0.8900);-webkit-text-stroke:.45px #737ee4;">32<span class="d">.</span>9<span class="u">%</span></div>
<div class="t sb" style="left:380.10px;transform-origin:0 0;top:481.68px;font-size:11.3px;color:#f0f0ff;letter-spacing:0.5px;transform:scaleX(0.7100);-webkit-text-stroke:.3px #f0f0ff;word-spacing:-1.6px;">Philippines</div>
<div class="t sb" style="right:386.45px;transform-origin:100% 0;top:481.18px;font-size:13.2px;color:#737ee4;transform:scaleX(0.9100);-webkit-text-stroke:.45px #737ee4;">22<span class="d">.</span>4<span class="m">M</span></div>
<div class="t sb" style="left:567.98px;transform-origin:0 0;top:481.28px;font-size:13.2px;color:#737ee4;transform:scaleX(0.8900);-webkit-text-stroke:.45px #737ee4;">29<span class="d">.</span>5<span class="u">%</span></div>
<div class="t sb" style="left:380.10px;transform-origin:0 0;top:498.83px;font-size:11.3px;color:#f0f0ff;letter-spacing:0.5px;transform:scaleX(0.7100);-webkit-text-stroke:.3px #f0f0ff;word-spacing:-1.6px;">Portugal</div>
<div class="t sb" style="right:355.44px;transform-origin:100% 0;top:498.33px;font-size:13.2px;color:#737ee4;transform:scaleX(0.9100);-webkit-text-stroke:.45px #737ee4;">2<span class="d">.</span>0<span class="m">M</span></div>
<div class="t sb" style="left:567.56px;transform-origin:0 0;top:498.43px;font-size:13.2px;color:#737ee4;transform:scaleX(0.8900);-webkit-text-stroke:.45px #737ee4;">29<span class="d">.</span>4<span class="u">%</span></div>
<div class="t sb" style="left:380.10px;transform-origin:0 0;top:515.98px;font-size:11.3px;color:#f0f0ff;letter-spacing:0.5px;transform:scaleX(0.7100);-webkit-text-stroke:.3px #f0f0ff;word-spacing:-1.6px;">Spain</div>
<div class="t sb" style="right:366.38px;transform-origin:100% 0;top:515.48px;font-size:13.2px;color:#737ee4;transform:scaleX(0.9100);-webkit-text-stroke:.45px #737ee4;">9<span class="d">.</span>2<span class="m">M</span></div>
<div class="t sb" style="left:564.98px;transform-origin:0 0;top:515.58px;font-size:13.2px;color:#737ee4;transform:scaleX(0.8900);-webkit-text-stroke:.45px #737ee4;">28<span class="d">.</span>8<span class="u">%</span></div>
<div class="t sb" style="left:380.10px;transform-origin:0 0;top:533.13px;font-size:11.3px;color:#f0f0ff;letter-spacing:0.5px;transform:scaleX(0.7100);-webkit-text-stroke:.3px #f0f0ff;word-spacing:-1.6px;">Hungary</div>
<div class="t sb" style="right:355.14px;transform-origin:100% 0;top:532.63px;font-size:13.2px;color:#737ee4;transform:scaleX(0.9100);-webkit-text-stroke:.45px #737ee4;"><span class="o">1</span><span class="d">.</span>8<span class="m">M</span></div>
<div class="t sb" style="left:563.69px;transform-origin:0 0;top:532.73px;font-size:13.2px;color:#737ee4;transform:scaleX(0.8900);-webkit-text-stroke:.45px #737ee4;">28<span class="d">.</span>5<span class="u">%</span></div>
<div class="t sb" style="left:380.10px;transform-origin:0 0;top:550.28px;font-size:11.3px;color:#f0f0ff;letter-spacing:0.5px;transform:scaleX(0.7100);-webkit-text-stroke:.3px #f0f0ff;word-spacing:-1.6px;">France</div>
<div class="t sb" style="right:370.34px;transform-origin:100% 0;top:549.78px;font-size:13.2px;color:#737ee4;transform:scaleX(0.9100);-webkit-text-stroke:.45px #737ee4;"><span class="o">1</span><span class="o">1</span><span class="d">.</span>8<span class="m">M</span></div>
<div class="t sb" style="left:561.98px;transform-origin:0 0;top:549.88px;font-size:13.2px;color:#737ee4;transform:scaleX(0.8900);-webkit-text-stroke:.45px #737ee4;">28<span class="d">.</span><span class="o">1</span><span class="u">%</span></div>
<div class="t sb" style="left:380.10px;transform-origin:0 0;top:567.43px;font-size:11.3px;color:#f0f0ff;letter-spacing:0.5px;transform:scaleX(0.7100);-webkit-text-stroke:.3px #f0f0ff;word-spacing:-1.6px;">Czechia</div>
<div class="t sb" style="right:355.29px;transform-origin:100% 0;top:566.93px;font-size:13.2px;color:#737ee4;transform:scaleX(0.9100);-webkit-text-stroke:.45px #737ee4;"><span class="o">1</span><span class="d">.</span>9<span class="m">M</span></div>
<div class="t sb" style="left:556.83px;transform-origin:0 0;top:567.03px;font-size:13.2px;color:#737ee4;transform:scaleX(0.8900);-webkit-text-stroke:.45px #737ee4;">26<span class="d">.</span>9<span class="u">%</span></div>
<div class="t sb" style="left:380.10px;transform-origin:0 0;top:584.58px;font-size:11.3px;color:#f0f0ff;letter-spacing:0.5px;transform:scaleX(0.7100);-webkit-text-stroke:.3px #f0f0ff;word-spacing:-1.6px;">Argentina</div>
<div class="t sb" style="right:363.19px;transform-origin:100% 0;top:584.08px;font-size:13.2px;color:#737ee4;transform:scaleX(0.9100);-webkit-text-stroke:.45px #737ee4;">7<span class="d">.</span><span class="o">1</span><span class="m">M</span></div>
<div class="t sb" style="left:543.10px;transform-origin:0 0;top:584.18px;font-size:13.2px;color:#737ee4;transform:scaleX(0.8900);-webkit-text-stroke:.45px #737ee4;">23<span class="d">.</span>7<span class="u">%</span></div>
<div class="t sb" style="left:380.10px;transform-origin:0 0;top:601.73px;font-size:11.3px;color:#f0f0ff;letter-spacing:0.5px;transform:scaleX(0.7100);-webkit-text-stroke:.3px #f0f0ff;word-spacing:-1.6px;">Chile</div>
<div class="t sb" style="right:357.11px;transform-origin:100% 0;top:601.23px;font-size:13.2px;color:#737ee4;transform:scaleX(0.9100);-webkit-text-stroke:.45px #737ee4;">3<span class="d">.</span><span class="o">1</span><span class="m">M</span></div>
<div class="t sb" style="left:539.66px;transform-origin:0 0;top:601.33px;font-size:13.2px;color:#737ee4;transform:scaleX(0.8900);-webkit-text-stroke:.45px #737ee4;">22<span class="d">.</span>9<span class="u">%</span></div>
<div class="t sb" style="left:380.10px;transform-origin:0 0;top:618.88px;font-size:11.3px;color:#f0f0ff;letter-spacing:0.5px;transform:scaleX(0.7100);-webkit-text-stroke:.3px #f0f0ff;word-spacing:-1.6px;">Brazil</div>
<div class="t sb" style="right:400.43px;transform-origin:100% 0;top:618.38px;font-size:13.2px;color:#737ee4;transform:scaleX(0.9100);-webkit-text-stroke:.45px #737ee4;">3<span class="o">1</span><span class="d">.</span>6<span class="m">M</span></div>
<div class="t sb" style="left:533.66px;transform-origin:0 0;top:618.48px;font-size:13.2px;color:#737ee4;transform:scaleX(0.8900);-webkit-text-stroke:.45px #737ee4;">2<span class="o">1</span><span class="d">.</span>5<span class="u">%</span></div>
<div class="t sb" style="left:380.10px;transform-origin:0 0;top:636.03px;font-size:11.3px;color:#f0f0ff;letter-spacing:0.5px;transform:scaleX(0.7100);-webkit-text-stroke:.3px #f0f0ff;word-spacing:-1.6px;">Italy</div>
<div class="t sb" style="right:364.56px;transform-origin:100% 0;top:635.53px;font-size:13.2px;color:#737ee4;transform:scaleX(0.9100);-webkit-text-stroke:.45px #737ee4;">8<span class="d">.</span>0<span class="m">M</span></div>
<div class="t sb" style="left:533.66px;transform-origin:0 0;top:635.63px;font-size:13.2px;color:#737ee4;transform:scaleX(0.8900);-webkit-text-stroke:.45px #737ee4;">2<span class="o">1</span><span class="d">.</span>5<span class="u">%</span></div>
<div class="t sb" style="left:380.10px;transform-origin:0 0;top:653.18px;font-size:11.3px;color:#f0f0ff;letter-spacing:0.5px;transform:scaleX(0.7100);-webkit-text-stroke:.3px #f0f0ff;word-spacing:-1.6px;">Mexico</div>
<div class="t sb" style="right:379.46px;transform-origin:100% 0;top:652.68px;font-size:13.2px;color:#737ee4;transform:scaleX(0.9100);-webkit-text-stroke:.45px #737ee4;"><span class="o">1</span>7<span class="d">.</span>8<span class="m">M</span></div>
<div class="t sb" style="left:528.94px;transform-origin:0 0;top:652.78px;font-size:13.2px;color:#737ee4;transform:scaleX(0.8900);-webkit-text-stroke:.45px #737ee4;">20<span class="d">.</span>4<span class="u">%</span></div>
<div class="t sb" style="left:380.10px;transform-origin:0 0;top:670.33px;font-size:11.3px;color:#f0f0ff;letter-spacing:0.5px;transform:scaleX(0.7100);-webkit-text-stroke:.3px #f0f0ff;word-spacing:-1.6px;">Colombia</div>
<div class="t sb" style="right:362.89px;transform-origin:100% 0;top:669.83px;font-size:13.2px;color:#737ee4;transform:scaleX(0.9100);-webkit-text-stroke:.45px #737ee4;">6<span class="d">.</span>9<span class="m">M</span></div>
<div class="t sb" style="left:522.50px;transform-origin:0 0;top:669.93px;font-size:13.2px;color:#737ee4;transform:scaleX(0.8900);-webkit-text-stroke:.45px #737ee4;"><span class="o">1</span>8<span class="d">.</span>9<span class="u">%</span></div>
<div class="t sb" style="left:380.10px;transform-origin:0 0;top:687.48px;font-size:11.3px;color:#f0f0ff;letter-spacing:0.5px;transform:scaleX(0.7100);-webkit-text-stroke:.3px #f0f0ff;word-spacing:-1.6px;">Costa Rica</div>
<div class="t sb" style="right:353.46px;transform-origin:100% 0;top:686.98px;font-size:13.2px;color:#737ee4;transform:scaleX(0.9100);-webkit-text-stroke:.45px #737ee4;">0<span class="d">.</span>7<span class="m">M</span></div>
<div class="t sb" style="left:522.50px;transform-origin:0 0;top:687.08px;font-size:13.2px;color:#737ee4;transform:scaleX(0.8900);-webkit-text-stroke:.45px #737ee4;"><span class="o">1</span>8<span class="d">.</span>9<span class="u">%</span></div>
<div class="t sb" style="left:302.30px;transform-origin:0 0;top:18.74px;font-size:22.4px;color:#f3c530;letter-spacing:2.7px;transform:scaleX(0.6987);-webkit-text-stroke:.6px #f3c530;">THE WORLD’S MOST</div>
<div class="t fb" style="left:110.40px;transform-origin:0 0;top:35.01px;font-size:61px;color:#ffffff;letter-spacing:-4.5px;transform:scaleX(0.8723);-webkit-text-stroke:1.5px #fff;">EDUCATED</div>
<div class="t fb" style="left:392.40px;transform-origin:0 0;top:35.01px;font-size:61px;color:#ffffff;letter-spacing:-4.5px;transform:scaleX(0.8956);-webkit-text-stroke:1.5px #fff;">COUNTRIES</div>
<div class="t sb" style="left:170.40px;transform-origin:0 0;top:101.46px;font-size:16px;color:#f3c530;transform:scaleX(0.8210);-webkit-text-stroke:.5px #f3c530;">Number of People</div>
<div class="t sb" style="left:505.40px;transform-origin:0 0;top:101.46px;font-size:16px;color:#f3c530;transform:scaleX(0.8253);-webkit-text-stroke:.5px #f3c530;">Share of People</div>
<div class="t sbi" style="left:130.80px;transform-origin:0 0;top:118.95px;font-size:11.4px;color:#5f68d6;transform:scaleX(0.7947);">age 25-64 with a Bachelor’s degree or higher</div>
<div class="t sbi" style="left:459.40px;transform-origin:0 0;top:118.95px;font-size:11.4px;color:#5f68d6;transform:scaleX(0.7947);">age 25-64 with a Bachelor’s degree or higher</div>
</body></html>
